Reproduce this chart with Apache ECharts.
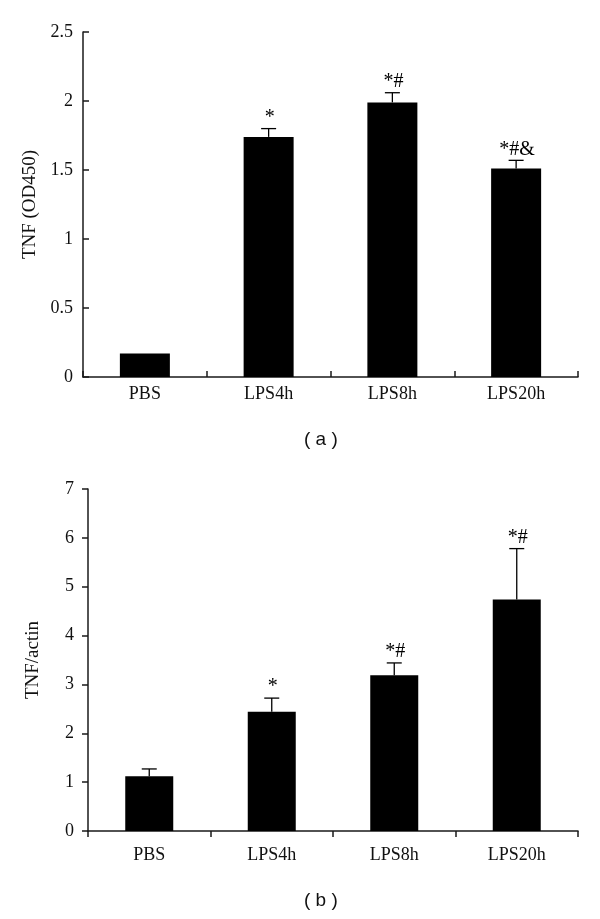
<!DOCTYPE html>
<html>
<head>
<meta charset="utf-8">
<script src="https://cdn.jsdelivr.net/npm/echarts@6/dist/echarts.min.js"></script>
<style>
html,body{margin:0;padding:0;background:#fff;}
#chart{width:600px;height:919px;}
</style>
</head>
<body>
<div id="chart"></div>
<script>
// ---- data ----
var categories = ['PBS', 'LPS4h', 'LPS8h', 'LPS20h'];
// panel (a): TNF (OD450)
var odMeans  = [0.17, 1.74, 1.99, 1.51];
var odErrors = [0.0, 0.06, 0.07, 0.06];
var odMarks  = ['', '*', '*#', '*#&'];
var odTicks  = [0, 0.5, 1, 1.5, 2, 2.5];
// panel (b): TNF/actin
var actMeans  = [1.12, 2.44, 3.19, 4.74];
var actErrors = [0.15, 0.28, 0.25, 1.04];
var actMarks  = ['', '*', '*#', '*#'];
var actTicks  = [0, 1, 2, 3, 4, 5, 6, 7];

var serif = '"Liberation Serif", "Times New Roman", serif';
var axisColor = '#1a1a1a';

function errData(means, errs) {
  return means.map(function (m, i) { return [i, m, errs[i]]; });
}

function makeRender(marks) {
  return function (params, api) {
    var idx = api.value(0), m = api.value(1), e = api.value(2);
    var mark = marks[params.dataIndex];
    var base = api.coord([idx, m]);
    var top = api.coord([idx, m + e]);
    var children = [];
    var st = { stroke: '#000', lineWidth: 1.3 };
    if (e > 0) {
      children.push({ type: 'line', shape: { x1: base[0], y1: base[1], x2: top[0], y2: top[1] }, style: st });
      children.push({ type: 'line', shape: { x1: top[0] - 7.5, y1: top[1], x2: top[0] + 7.5, y2: top[1] }, style: st });
    }
    if (mark) {
      children.push({
        type: 'text',
        style: {
          text: mark, x: top[0] + 1, y: top[1] - 1,
          align: 'center', verticalAlign: 'bottom',
          font: '20px ' + serif, fill: '#000'
        }
      });
    }
    return { type: 'group', children: children };
  };
}

function yAxisCfg(gridIdx, ticks, name, inside, gap, labelMargin) {
  return {
    type: 'value', gridIndex: gridIdx,
    min: ticks[0], max: ticks[ticks.length - 1], interval: ticks[1] - ticks[0],
    name: name, nameLocation: 'middle', nameGap: gap,
    nameTextStyle: { fontFamily: serif, fontSize: 19, color: '#111' },
    axisLine: { show: true, lineStyle: { color: axisColor, width: 1.5 } },
    axisTick: { show: true, inside: inside, length: 6, lineStyle: { color: axisColor, width: 1.5 } },
    axisLabel: { fontFamily: serif, fontSize: 18, color: '#111', margin: labelMargin },
    splitLine: { show: false }
  };
}

function xAxisCfg(gridIdx, inside, labelMargin) {
  return {
    type: 'category', gridIndex: gridIdx, data: categories,
    axisLine: { show: true, lineStyle: { color: axisColor, width: 1.5 } },
    axisTick: { show: true, inside: inside, length: 6, alignWithLabel: false, lineStyle: { color: axisColor, width: 1.5 } },
    axisLabel: { fontFamily: serif, fontSize: 18, color: '#111', margin: labelMargin },
    splitLine: { show: false }
  };
}

var chart = echarts.init(document.getElementById('chart'), null, { renderer: 'canvas' });
chart.setOption({
  animation: false,
  backgroundColor: '#fff',
  grid: [
    { left: 83, right: 22, top: 32, height: 345 },
    { left: 88, right: 22, top: 489, height: 342 }
  ],
  xAxis: [xAxisCfg(0, true, 8), xAxisCfg(1, false, 15)],
  yAxis: [
    yAxisCfg(0, odTicks, 'TNF (OD450)', true, 40, 10),
    yAxisCfg(1, actTicks, 'TNF/actin', false, 45, 14)
  ],
  series: [
    { type: 'bar', xAxisIndex: 0, yAxisIndex: 0, data: odMeans, barWidth: 50,
      itemStyle: { color: '#000' } },
    { type: 'custom', xAxisIndex: 0, yAxisIndex: 0, data: errData(odMeans, odErrors),
      renderItem: makeRender(odMarks), z: 5 },
    { type: 'bar', xAxisIndex: 1, yAxisIndex: 1, data: actMeans, barWidth: 48,
      itemStyle: { color: '#000' } },
    { type: 'custom', xAxisIndex: 1, yAxisIndex: 1, data: errData(actMeans, actErrors),
      renderItem: makeRender(actMarks), z: 5 }
  ],
  graphic: [
    { type: 'text', left: 304, top: 430,
      style: { text: '( a )', font: '19px "Liberation Sans", Arial, sans-serif', fill: '#111' } },
    { type: 'text', left: 304, top: 891,
      style: { text: '( b )', font: '19px "Liberation Sans", Arial, sans-serif', fill: '#111' } }
  ]
});
</script>
</body>
</html>
